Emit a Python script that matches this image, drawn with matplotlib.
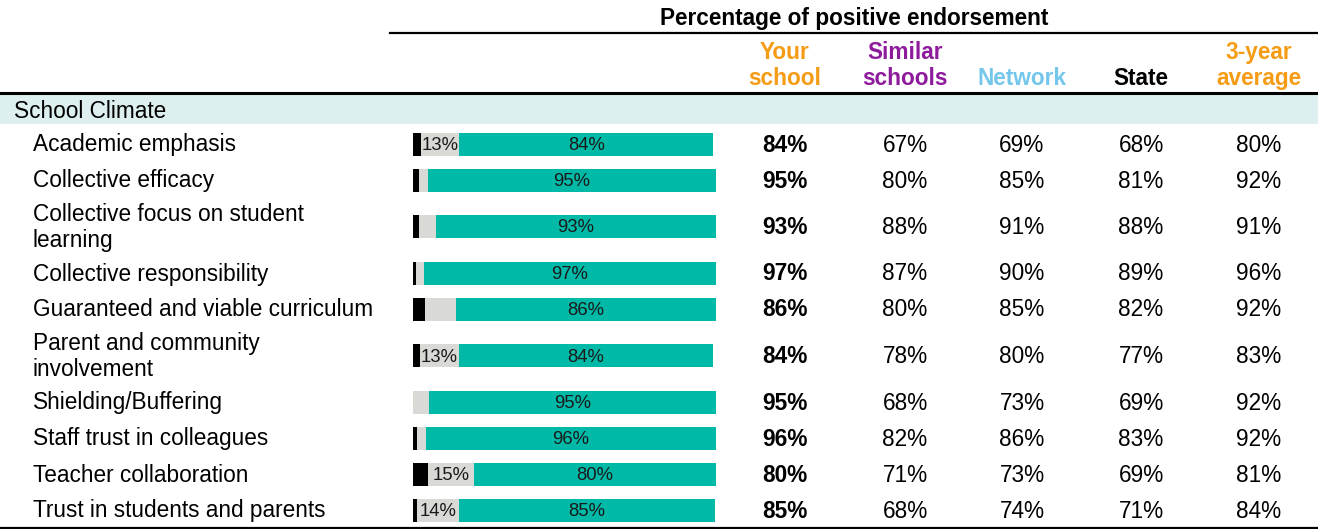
import matplotlib.pyplot as plt
from matplotlib.patches import Rectangle

plt.rcParams['font.family'] = ['Liberation Sans', 'DejaVu Sans']

categories = [
    "Academic emphasis",
    "Collective efficacy",
    "Collective focus on student\nlearning",
    "Collective responsibility",
    "Guaranteed and viable curriculum",
    "Parent and community\ninvolvement",
    "Shielding/Buffering",
    "Staff trust in colleagues",
    "Teacher collaboration",
    "Trust in students and parents",
]
negative = [2.6, 2.0, 1.9, 1.0, 4.0, 2.1, 0.0, 1.1, 4.9, 1.1]
neutral = [12.6, 3.0, 5.5, 2.4, 10.2, 13.0, 5.2, 3.1, 15.2, 13.9]
positive = [84.0, 95.0, 92.6, 96.6, 85.8, 84.0, 94.8, 95.8, 79.9, 84.8]
your_school = [84, 95, 93, 97, 86, 84, 95, 96, 80, 85]
similar = [67, 80, 88, 87, 80, 78, 68, 82, 71, 68]
network = [69, 85, 91, 90, 85, 80, 73, 86, 73, 74]
state = [68, 81, 88, 89, 82, 77, 69, 83, 69, 71]
three_year = [80, 92, 91, 96, 92, 83, 92, 92, 81, 84]

col_names = ["Your\nschool", "Similar\nschools", "Network", "State", "3-year\naverage"]
col_colors = ["#f59b14", "#8e1b9c", "#74c7ea", "#000000", "#f59b14"]
col_x = [785, 905, 1022, 1141, 1259]

W, H = 1318, 529
fig = plt.figure(figsize=(W / 100, H / 100), dpi=100)
ax = fig.add_axes([0, 0, 1, 1])
ax.set_xlim(0, W)
ax.set_ylim(H, 0)
ax.axis('off')

# row layout (pixels)
row_h = [57 if '\n' in c else 36 for c in categories]
ys = []
top = 125
for h in row_h:
    ys.append(top + h / 2)
    top += h

fs = 16.3
dy = 2  # visual offset for text centring
ax.text(854, 17 + dy, "Percentage of positive endorsement", ha='center', va='center',
        fontsize=fs, fontweight='bold')
ax.plot([390, W], [33, 33], color='black', lw=1.6)
for name, c, x in zip(col_names, col_colors, col_x):
    ax.text(x, 90, name, ha='center', va='bottom', fontsize=fs, fontweight='bold',
            color=c, linespacing=1.15)
ax.plot([0, W], [92.5, 92.5], color='black', lw=2.2)
ax.add_patch(Rectangle((0, 94), W, 30, color='#ddf0ef', lw=0))
ax.text(14, 109 + dy, "School Climate", ha='left', va='center', fontsize=fs)
ax.plot([0, W], [527.5, 527.5], color='black', lw=1.6)

table = [your_school, similar, network, state, three_year]
for i, (cat, y) in enumerate(zip(categories, ys)):
    ax.text(33, y + dy, cat, ha='left', va='center', fontsize=fs, linespacing=1.2)
    for j, (col, x) in enumerate(zip(table, col_x)):
        ax.text(x, y + dy, f"{col[i]}%", ha='center', va='center', fontsize=fs,
                fontweight='bold' if j == 0 else 'normal')

# bars
x0, x1 = 413.3, 715.7
bx = fig.add_axes([x0 / W, 0, (x1 - x0) / W, 1])
bx.set_xlim(0, 100)
bx.set_ylim(H, 0)
bx.axis('off')
bh = 23
by = [y + 1 for y in ys]
bx.barh(by, negative, height=bh, color='#000000', lw=0)
lefts = negative
bx.barh(by, neutral, left=lefts, height=bh, color='#d9d9d5', lw=0)
lefts2 = [a + b for a, b in zip(negative, neutral)]
bx.barh(by, positive, left=lefts2, height=bh, color='#00b9a7', lw=0)
for y, l, nv, l2, p in zip(by, lefts, neutral, lefts2, positive):
    if nv >= 12:
        bx.text(l + nv / 2, y + 1.5, f"{nv:.0f}%", ha='center', va='center', fontsize=13.3, color='#1a1a1a')
    bx.text(l2 + p / 2, y + 1.5, f"{p:.0f}%", ha='center', va='center', fontsize=13.3, color='#1a1a1a')

fig.savefig('out.png', dpi=100)
